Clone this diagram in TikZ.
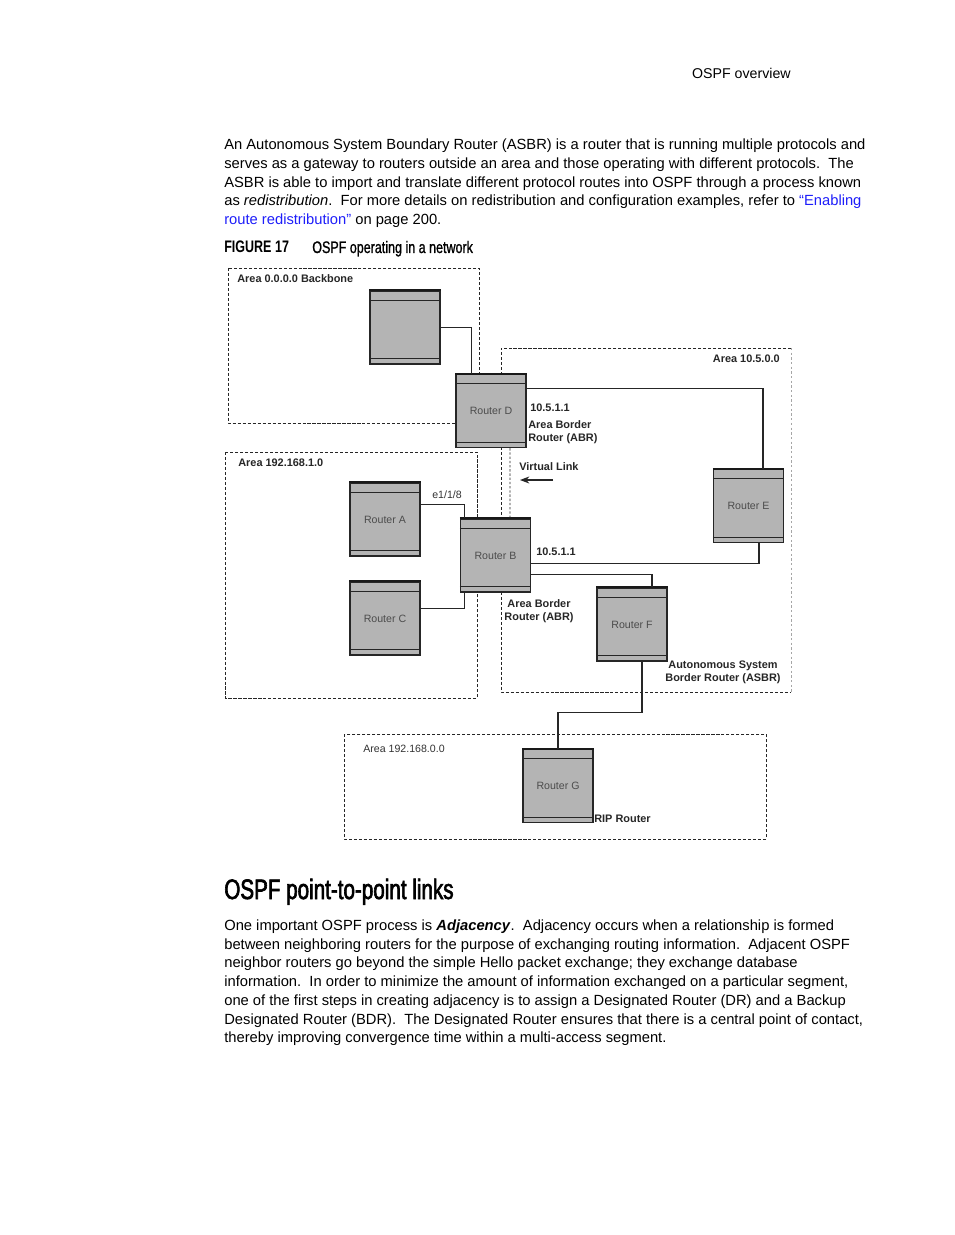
\documentclass[tikz,border=0pt]{standalone}
\usepackage{fontspec}
\setmainfont{Liberation Sans}
\newfontfamily\condfont[FakeStretch=0.75]{Liberation Sans}
\newfontfamily\headfont[FakeStretch=0.735,FakeBold=2.2]{Liberation Sans}
\usetikzlibrary{calc,arrows.meta}
\definecolor{linkblue}{RGB}{30,30,250}
\definecolor{routergray}{RGB}{180,180,180}
\begin{document}
\begin{tikzpicture}[x=0.6414pt,y=-0.6414pt,
  router/.style={draw=black!85, line width=0.9pt, fill=routergray, minimum width=44.9pt, minimum height=46.8pt, inner sep=0pt, font=\fontsize{6.8}{8}\selectfont, text=black!70},
  area/.style={draw=black!85, line width=0.5pt, dash pattern=on 2pt off 1.2pt},
  lightarea/.style={draw=black!35, line width=0.5pt, dash pattern=on 1.5pt off 1.5pt},
  vlink/.style={draw=black!85, line width=0.5pt, dash pattern=on 1.5pt off 1.2pt},
  link/.style={draw=black!85, line width=0.7pt},
  lbl/.style={font=\bfseries\fontsize{7}{8.3}\selectfont, text=black!85, inner sep=0pt, align=left},
  slbl/.style={font=\fontsize{6.8}{8}\selectfont, text=black!80, inner sep=0pt, align=left},
  bodytext/.style={font=\fontsize{9.45}{12}\selectfont, inner sep=0pt, anchor=base west}
]
\useasboundingbox (0,0) rectangle (954,1235);
\fill[white] (0,0) rectangle (954,1235);

% page text
\node[inner sep=0pt, anchor=base east, font=\fontsize{9.1}{12}\selectfont] (hdr) at (791,79) {OSPF overview};
\node[bodytext] (p1a) at (224,150) {An Autonomous System Boundary Router (ASBR) is a router that is running multiple protocols and};
\node[bodytext] (p1b) at (224,169) {serves as a gateway to routers outside an area and those operating with different protocols.\ \ The};
\node[bodytext] (p1c) at (224,187.5) {ASBR is able to import and translate different protocol routes into OSPF through a process known};
\node[bodytext] (p1d) at (224,206) {as \textit{redistribution}.\ \ For more details on redistribution and configuration examples, refer to \textcolor{linkblue}{“Enabling}};
\node[bodytext] (p1e) at (224,225) {\textcolor{linkblue}{route redistribution”} on page 200.};

\node[inner sep=0pt, anchor=base west, font=\condfont\bfseries\fontsize{10.7}{12}\selectfont] (fig) at (224,253) {FIGURE 17};
\node[inner sep=0pt, anchor=base west, font=\condfont\fontsize{10.7}{12}\selectfont\addfontfeature{FakeBold=1}] (figt) at (312,253) {OSPF operating in a network};

\node[inner sep=0pt, anchor=base west, font=\headfont\fontsize{18}{20}\selectfont] (sec) at (224,899) {OSPF point-to-point links};

\node[bodytext] (p2a) at (224,930) {One important OSPF process is \textbf{\textit{Adjacency}}.\ \ Adjacency occurs when a relationship is formed};
\node[bodytext] (p2b) at (224,949) {between neighboring routers for the purpose of exchanging routing information.\ \ Adjacent OSPF};
\node[bodytext] (p2c) at (224,967.5) {neighbor routers go beyond the simple Hello packet exchange; they exchange database};
\node[bodytext] (p2d) at (224,986) {information.\ \ In order to minimize the amount of information exchanged on a particular segment,};
\node[bodytext] (p2e) at (224,1005) {one of the first steps in creating adjacency is to assign a Designated Router (DR) and a Backup};
\node[bodytext] (p2f) at (224,1024) {Designated Router (BDR).\ \ The Designated Router ensures that there is a central point of contact,};
\node[bodytext] (p2g) at (224,1042) {thereby improving convergence time within a multi-access segment.};

% areas
\draw[area] (228,268) rectangle (479,423);
\draw[area] (225,452) rectangle (477,698);
\draw[area] (791,348) -- (501,348) -- (501,692) -- (791,692);
\draw[lightarea] (791,348) -- (791,692);
\draw[area] (344,734) rectangle (766,839);

% routers
\node[router] (U) at (405,327.5) {};
\node[router] (D) at (491,411) {Router D};
\node[router] (A) at (385,519.5) {Router A};
\node[router] (C) at (385,618.5) {Router C};
\node[router] (B) at (495.5,555.5) {Router B};
\node[router] (E) at (748.5,506) {Router E};
\node[router] (F) at (632,624.5) {Router F};
\node[router] (G) at (558,786) {Router G};
\foreach \r in {U,D,A,C,B,E,F,G}{
  \draw[black!85, line width=0.6pt] ($(\r.north west)+(0,10)$) -- ($(\r.north east)+(0,10)$);
  \draw[black!85, line width=0.6pt] ($(\r.south west)+(0,-6)$) -- ($(\r.south east)+(0,-6)$);
  \draw[black!90, line width=1.4pt] (\r.north west) -- (\r.north east);
}

% connectors
\draw[link] (U.east) -| ($(D.north west)+(16,0)$);
\draw[link] ($(D.north east)+(0,15)$) -| ($(E.north)+(14.5,0)$);
\draw[link] ($(A.north east)+(0,22)$) -| ($(B.north west)+(5,0)$);
\draw[link] ($(C.north east)+(0,27)$) -| ($(B.south west)+(5,0)$);
\draw[link] ($(B.north east)+(0,45)$) -| ($(E.south)+(10.5,0)$);
\draw[link] ($(B.north east)+(0,56)$) -| ($(F.north)+(20,0)$);
\draw[link] ($(F.south)+(10,0)$) -- ++(0,51) -| (G.north);
\draw[vlink] ($(D.south)+(19,0)$) -- ($(B.north)+(14.5,0)$);

\coordinate (vl1) at (553,480);
\coordinate (vl2) at (520,480);
\draw[black!85, line width=0.7pt, -{Stealth[length=6pt,width=4.5pt]}] (vl1) -- (vl2);

% labels
\node[lbl, anchor=west] (lbb) at (237,279) {Area 0.0.0.0 Backbone};
\node[lbl, anchor=east] (la10) at (780,359) {Area 10.5.0.0};
\node[lbl, anchor=west] (lipd) at (530,408) {10.5.1.1};
\node[lbl, anchor=north west] (labrd) at (528,420) {Area Border\\Router (ABR)};
\node[lbl, anchor=west] (la192) at (238,463) {Area 192.168.1.0};
\node[lbl, anchor=west] (lvl) at (519,467) {Virtual Link};
\node[slbl, anchor=center] (leth) at (447,495) {e1/1/8};
\node[lbl, anchor=west] (lipb) at (536,552) {10.5.1.1};
\node[lbl, anchor=north, align=center] (labrb) at (539,599) {Area Border\\Router (ABR)};
\node[lbl, anchor=north, align=center] (lasbr) at (723,661) {Autonomous System\\Border Router (ASBR)};
\node[slbl, anchor=west] (la1920) at (363,749) {Area 192.168.0.0};
\node[lbl, anchor=west] (lrip) at (594,819) {RIP Router};
\end{tikzpicture}
\end{document}
